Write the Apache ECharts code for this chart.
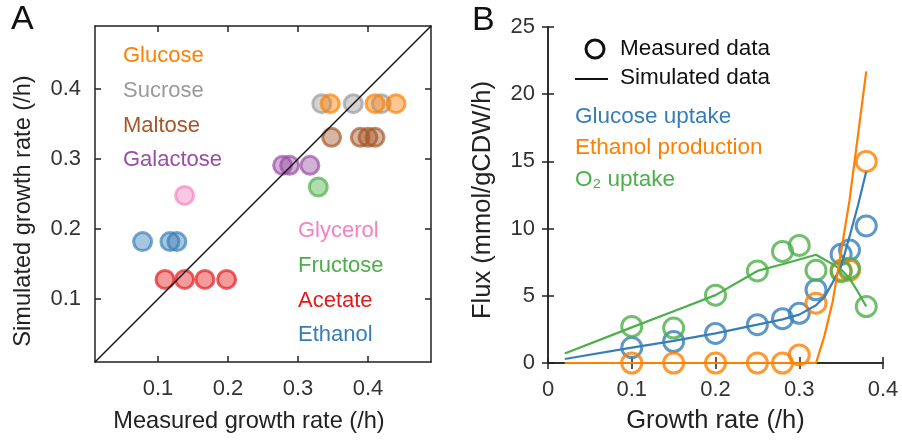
<!DOCTYPE html>
<html>
<head>
<meta charset="utf-8">
<script src="https://cdn.jsdelivr.net/npm/echarts@6/dist/echarts.min.js"></script>
<style>html,body{margin:0;padding:0;background:#fff}#chart{width:902px;height:444px}</style>
</head>
<body>
<div id="chart"></div>
<script>
// ---------- Panel A data ----------
const tickValuesA = [0.1, 0.2, 0.3, 0.4];
const diagonal = [0.01, 0.49];
const sucroseMeasured = [0.334, 0.379, 0.419];
const sucroseSimulated = 0.379;
const glucoseMeasured = [0.346, 0.41, 0.44];
const glucoseSimulated = 0.379;
const maltoseMeasured = [0.348, 0.389, 0.40, 0.41];
const maltoseSimulated = 0.331;
const galactoseMeasured = [0.278, 0.288, 0.317];
const galactoseSimulated = 0.291;
const glycerolMeasured = [0.138];
const glycerolSimulated = 0.248;
const fructoseMeasured = [0.329];
const fructoseSimulated = 0.26;
const acetateMeasured = [0.11, 0.138, 0.167, 0.198];
const acetateSimulated = 0.128;
const ethanolMeasured = [0.078, 0.117, 0.127];
const ethanolSimulated = 0.182;

// ---------- Panel B data ----------
const growthMeasured = [0.1, 0.15, 0.2, 0.25, 0.28, 0.3, 0.32, 0.35, 0.36, 0.38];
const glucoseUptakeMeasured = [1.15, 1.6, 2.2, 2.85, 3.3, 3.7, 5.45, 8.1, 8.4, 10.2];
const ethanolProdMeasured = [0, 0, 0, 0, 0, 0.6, 4.45, 6.9, 6.9, 15.0];
const o2UptakeMeasured = [2.72, 2.6, 5.05, 6.85, 8.3, 8.75, 6.9, 6.8, 7.05, 4.2];

const growthSim = [0.02, 0.1, 0.15, 0.2, 0.25, 0.28, 0.3, 0.32, 0.33, 0.34, 0.35, 0.36, 0.37, 0.38];
const glucoseUptakeSim = [0.3, 1.15, 1.65, 2.2, 2.85, 3.25, 3.6, 4.3, 4.9, 6.0, 7.2, 9.4, 11.7, 14.25];
const ethanolProdSim = [0, 0, 0, 0, 0, 0, 0, 0, 2.0, 4.6, 8.3, 12.1, 16.9, 21.7];
const o2UptakeSim = [0.7, 2.65, 3.85, 5.05, 6.85, 7.35, 7.7, 8.05, 7.7, 7.35, 6.95, 6.3, 5.3, 4.2];

// ---------- styling ----------
const FONT = 'Liberation Sans, Arial, Helvetica, sans-serif';
const C = {
  orange: '#ff7f00', grey: '#9a9a9a', brown: '#a65628', purple: '#984ea3',
  pink: '#f781bf', green: '#4daf4a', red: '#e41a1c', blue: '#377eb8'
};
function rgba(hex, a) {
  const n = parseInt(hex.slice(1), 16);
  return 'rgba(' + (n >> 16) + ',' + ((n >> 8) & 255) + ',' + (n & 255) + ',' + a + ')';
}
const axisLine = { show: true, lineStyle: { color: '#222', width: 1.5 } };
const tickStyle = { inside: true, length: 6, lineStyle: { color: '#222', width: 1.5 } };
const labelStyle = { color: '#333', fontSize: 22, fontFamily: FONT };
const nameStyleA = { color: '#222', fontSize: 23.6, fontFamily: FONT };
const nameStyleB = { color: '#222', fontSize: 25.5, fontFamily: FONT };

function scatterA(name, xs, y, color) {
  return {
    type: 'scatter', name: name, xAxisIndex: 0, yAxisIndex: 0,
    symbol: 'circle', symbolSize: 18,
    data: xs.map(x => [x, y]),
    itemStyle: { color: rgba(color, 0.55), borderColor: rgba(color, 0.85), borderWidth: 3 },
    z: 2
  };
}
function scatterB(name, xs, ys, color) {
  return {
    type: 'scatter', name: name, xAxisIndex: 2, yAxisIndex: 2,
    symbol: 'circle', symbolSize: 20,
    data: xs.map((x, i) => [x, ys[i]]),
    itemStyle: { color: 'rgba(255,255,255,0)', borderColor: color, borderWidth: 3 },
    z: 2
  };
}
function lineB(name, xs, ys, color) {
  return {
    type: 'line', name: name, xAxisIndex: 2, yAxisIndex: 2,
    data: xs.map((x, i) => [x, ys[i]]),
    showSymbol: false, symbol: 'none',
    lineStyle: { color: color, width: 2.2 }, z: 3
  };
}

const option = {
  animation: false,
  backgroundColor: '#fff',
  grid: [
    { left: 95, top: 26, width: 336, height: 336 },
    { left: 548, top: 27, width: 335, height: 336 }
  ],
  xAxis: [
    { gridIndex: 0, type: 'value', min: 0.01, max: 0.49, position: 'bottom',
      axisLine: axisLine, splitLine: { show: false },
      axisTick: Object.assign({ customValues: tickValuesA }, tickStyle),
      axisLabel: Object.assign({ customValues: tickValuesA, margin: 16, formatter: v => String(v) }, labelStyle),
      name: 'Measured growth rate (/h)', nameLocation: 'middle', nameGap: 47,
      nameTextStyle: Object.assign({ padding: [0, 28, 0, 0] }, nameStyleA) },
    { gridIndex: 0, type: 'value', min: 0.01, max: 0.49, position: 'top',
      axisLine: axisLine, splitLine: { show: false },
      axisTick: Object.assign({ customValues: tickValuesA }, tickStyle),
      axisLabel: { show: false } },
    { gridIndex: 1, type: 'value', min: 0, max: 0.4, interval: 0.1, position: 'bottom',
      axisLine: axisLine, splitLine: { show: false },
      axisTick: tickStyle,
      axisLabel: Object.assign({ margin: 16, formatter: v => String(v) }, labelStyle),
      name: 'Growth rate (/h)', nameLocation: 'middle', nameGap: 45, nameTextStyle: nameStyleB },
    { gridIndex: 1, type: 'value', min: 0, max: 0.4, interval: 0.1, position: 'top',
      axisLine: axisLine, splitLine: { show: false },
      axisTick: tickStyle, axisLabel: { show: false } }
  ],
  yAxis: [
    { gridIndex: 0, type: 'value', min: 0.01, max: 0.49, position: 'left',
      axisLine: axisLine, splitLine: { show: false },
      axisTick: Object.assign({ customValues: tickValuesA }, tickStyle),
      axisLabel: Object.assign({ customValues: tickValuesA, margin: 14, formatter: v => String(v) }, labelStyle),
      name: 'Simulated growth rate (/h)', nameLocation: 'middle', nameGap: 60,
      nameTextStyle: Object.assign({ padding: [0, 34, 0, 0] }, nameStyleA) },
    { gridIndex: 0, type: 'value', min: 0.01, max: 0.49, position: 'right',
      axisLine: axisLine, splitLine: { show: false },
      axisTick: Object.assign({ customValues: tickValuesA }, tickStyle),
      axisLabel: { show: false } },
    { gridIndex: 1, type: 'value', min: 0, max: 25, interval: 5, position: 'left',
      axisLine: axisLine, splitLine: { show: false },
      axisTick: tickStyle,
      axisLabel: Object.assign({ margin: 13 }, labelStyle),
      name: 'Flux (mmol/gCDW/h)', nameLocation: 'middle', nameGap: 52,
      nameTextStyle: Object.assign({ padding: [0, 10, 0, 0] }, nameStyleB) },
    { gridIndex: 1, type: 'value', min: 0, max: 25, interval: 5, position: 'right',
      axisLine: axisLine, splitLine: { show: false },
      axisTick: tickStyle, axisLabel: { show: false } }
  ],
  series: [
    scatterA('Sucrose', sucroseMeasured, sucroseSimulated, C.grey),
    scatterA('Glucose', glucoseMeasured, glucoseSimulated, C.orange),
    scatterA('Maltose', maltoseMeasured, maltoseSimulated, C.brown),
    scatterA('Galactose', galactoseMeasured, galactoseSimulated, C.purple),
    scatterA('Glycerol', glycerolMeasured, glycerolSimulated, C.pink),
    scatterA('Fructose', fructoseMeasured, fructoseSimulated, C.green),
    scatterA('Acetate', acetateMeasured, acetateSimulated, C.red),
    scatterA('Ethanol', ethanolMeasured, ethanolSimulated, C.blue),
    { type: 'line', name: 'y=x', xAxisIndex: 0, yAxisIndex: 0,
      data: diagonal.map(v => [v, v]), showSymbol: false, symbol: 'none',
      lineStyle: { color: '#111', width: 1.5 }, z: 4 },
    scatterB('Glucose uptake (measured)', growthMeasured, glucoseUptakeMeasured, C.blue),
    scatterB('Ethanol production (measured)', growthMeasured, ethanolProdMeasured, C.orange),
    scatterB('O2 uptake (measured)', growthMeasured, o2UptakeMeasured, C.green),
    lineB('Glucose uptake (simulated)', growthSim, glucoseUptakeSim, C.blue),
    lineB('O2 uptake (simulated)', growthSim, o2UptakeSim, C.green),
    lineB('Ethanol production (simulated)', growthSim, ethanolProdSim, C.orange)
  ],
  graphic: [
    { type: 'text', left: 11, top: 3, style: { text: 'A', font: '34px ' + FONT, fill: '#111' } },
    { type: 'text', left: 472, top: 4, style: { text: 'B', font: '34px ' + FONT, fill: '#111' } },
    // Panel A labels
    { type: 'text', x: 123, y: 56, style: { text: 'Glucose', font: '22px ' + FONT, fill: C.orange, verticalAlign: 'middle' } },
    { type: 'text', x: 123, y: 91, style: { text: 'Sucrose', font: '22px ' + FONT, fill: C.grey, verticalAlign: 'middle' } },
    { type: 'text', x: 123, y: 126, style: { text: 'Maltose', font: '22px ' + FONT, fill: C.brown, verticalAlign: 'middle' } },
    { type: 'text', x: 123, y: 160, style: { text: 'Galactose', font: '22px ' + FONT, fill: C.purple, verticalAlign: 'middle' } },
    { type: 'text', x: 298, y: 231, style: { text: 'Glycerol', font: '22px ' + FONT, fill: C.pink, verticalAlign: 'middle' } },
    { type: 'text', x: 298, y: 266, style: { text: 'Fructose', font: '22px ' + FONT, fill: C.green, verticalAlign: 'middle' } },
    { type: 'text', x: 298, y: 301, style: { text: 'Acetate', font: '22px ' + FONT, fill: C.red, verticalAlign: 'middle' } },
    { type: 'text', x: 298, y: 335, style: { text: 'Ethanol', font: '22px ' + FONT, fill: C.blue, verticalAlign: 'middle' } },
    // Panel B legend
    { type: 'circle', shape: { cx: 595, cy: 49, r: 9 }, style: { fill: 'none', stroke: '#111', lineWidth: 3 } },
    { type: 'text', x: 620, y: 49, style: { text: 'Measured data', font: '22.5px ' + FONT, fill: '#111', verticalAlign: 'middle' } },
    { type: 'line', shape: { x1: 575, y1: 79, x2: 608, y2: 79 }, style: { stroke: '#111', lineWidth: 2.2 } },
    { type: 'text', x: 620, y: 78, style: { text: 'Simulated data', font: '22.5px ' + FONT, fill: '#111', verticalAlign: 'middle' } },
    { type: 'text', x: 575, y: 117, style: { text: 'Glucose uptake', font: '22.5px ' + FONT, fill: C.blue, verticalAlign: 'middle' } },
    { type: 'text', x: 575, y: 148, style: { text: 'Ethanol production', font: '22.5px ' + FONT, fill: C.orange, verticalAlign: 'middle' } },
    { type: 'text', x: 575, y: 180, style: { text: 'O\u2082 uptake', font: '22.5px ' + FONT, fill: C.green, verticalAlign: 'middle' } }
  ]
};
const chart = echarts.init(document.getElementById('chart'), null, { renderer: 'canvas' });
chart.setOption(option);
</script>
</body>
</html>
